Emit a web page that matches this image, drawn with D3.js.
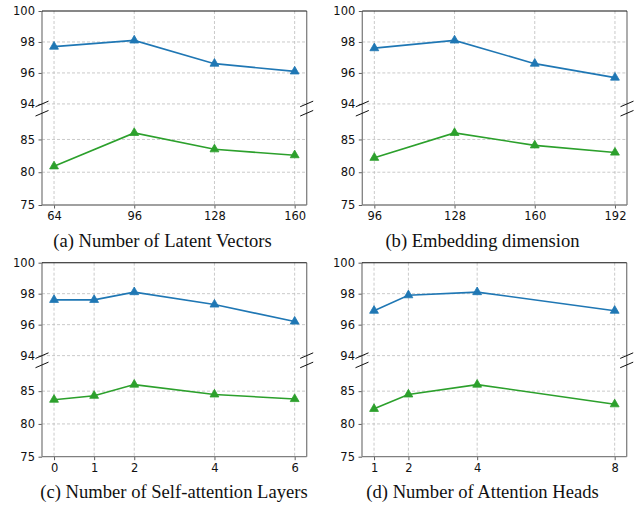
<!DOCTYPE html>
<html>
<head>
<meta charset="utf-8">
<script src="https://cdn.jsdelivr.net/npm/d3@7"></script>
<style>
  body { margin: 0; background: #fff; }
  svg { display: block; }
</style>
</head>
<body>
<script>
const width = 635;
const height = 505;

// (a) latent vectors
const latentX = [64, 96, 128, 160];
const latentBlue = [97.7, 98.1, 96.6, 96.1];
const latentGreen = [80.9, 86.0, 83.5, 82.6];

// (b) embedding dimension
const embedX = [96, 128, 160, 192];
const embedBlue = [97.6, 98.1, 96.6, 95.7];
const embedGreen = [82.2, 86.0, 84.1, 83.0];

// (c) self-attention layers
const layersX = [0, 1, 2, 4, 6];
const layersBlue = [97.6, 97.6, 98.1, 97.3, 96.2];
const layersGreen = [83.7, 84.3, 86.0, 84.5, 83.8];

// (d) attention heads
const headsX = [1, 2, 4, 8];
const headsBlue = [96.9, 97.9, 98.1, 96.9];
const headsGreen = [82.3, 84.5, 86.0, 83.0];

const yTicks = [75, 80, 85, 94, 96, 98, 100];

const captions = [
    "(a) Number of Latent Vectors",
    "(b) Embedding dimension",
    "(c) Number of Self-attention Layers",
    "(d) Number of Attention Heads"
];

const panels = [
    {x: latentX, blue: latentBlue, green: latentGreen, caption: captions[0],
     left: 42, top: 11, capX: 162.5},
    {x: embedX, blue: embedBlue, green: embedGreen, caption: captions[1],
     left: 362.3, top: 11, capX: 482.5},
    {x: layersX, blue: layersBlue, green: layersGreen, caption: captions[2],
     left: 42, top: 262.7, capX: 174},
    {x: headsX, blue: headsBlue, green: headsGreen, caption: captions[3],
     left: 362, top: 262.7, capX: 482.5}
];

const pw = 264.7;
const ph = 194;
const blue = "#1f77b4";
const green = "#2ca02c";
const spineGrey = "#808080";

let svg = d3.select("body")
    .append("svg")
    .attr("width", width)
    .attr("height", height);

panels.forEach(p => {
    let g = svg.append("g").attr("transform", `translate(${p.left},${p.top})`);

    // x with matplotlib-like 5% margins
    let x0 = d3.min(p.x), x1 = d3.max(p.x);
    let pad = (x1 - x0) * 0.05;
    let xScale = d3.scaleLinear().domain([x0 - pad, x1 + pad]).range([0, pw]);

    // broken y axis: lower part 75-89, upper part 94-100
    let lowerH = ph * 0.473;
    let upperH = ph * 0.479;
    let yScale = d3.scaleLinear()
        .domain([75, 89, 94, 100])
        .range([ph, ph - lowerH, upperH, 0]);

    // grid
    g.append("g")
        .selectAll("line.hgrid")
        .data(yTicks.filter(d => d !== 75 && d !== 100))
        .join("line")
        .attr("x1", 0).attr("x2", pw)
        .attr("y1", d => yScale(d)).attr("y2", d => yScale(d))
        .attr("stroke", "#bdbdbd")
        .attr("stroke-width", 0.8)
        .attr("stroke-dasharray", "3,2");
    g.append("g")
        .selectAll("line.vgrid")
        .data(p.x)
        .join("line")
        .attr("x1", d => xScale(d)).attr("x2", d => xScale(d))
        .attr("y1", 0).attr("y2", ph)
        .attr("stroke", "#bdbdbd")
        .attr("stroke-width", 0.8)
        .attr("stroke-dasharray", "3,2");

    // axes
    let leftAxis = d3.axisLeft(yScale).tickValues(yTicks).tickSize(3.5).tickPadding(3.5);
    let bottomAxis = d3.axisBottom(xScale).tickValues(p.x).tickSize(3.5).tickPadding(3.5)
        .tickFormat(d3.format("d"));
    let la = g.append("g").call(leftAxis);
    let ba = g.append("g").attr("transform", `translate(0,${ph})`).call(bottomAxis);
    [la, ba].forEach(a => {
        a.select(".domain").remove();
        a.selectAll(".tick line").attr("stroke", "#333").attr("stroke-width", 0.8);
        a.selectAll(".tick text")
            .attr("fill", "#111")
            .style("font-family", "DejaVu Sans, sans-serif")
            .style("font-size", "11.5px");
    });

    // spines
    g.append("line").attr("x1", 0).attr("x2", 0).attr("y1", 0).attr("y2", ph)
        .attr("stroke", spineGrey).attr("stroke-width", 1.3);
    g.append("line").attr("x1", pw).attr("x2", pw).attr("y1", 0).attr("y2", ph)
        .attr("stroke", spineGrey).attr("stroke-width", 1.3);
    g.append("line").attr("x1", 0).attr("x2", pw).attr("y1", ph).attr("y2", ph)
        .attr("stroke", spineGrey).attr("stroke-width", 1.3);
    g.append("line").attr("x1", 0).attr("x2", pw).attr("y1", 0).attr("y2", 0)
        .attr("stroke", "#111").attr("stroke-width", 1.1);

    // break marks
    [0, pw].forEach(sx => {
        [94, 89].forEach(v => {
            let yy = yScale(v);
            g.append("line")
                .attr("x1", sx - 6.5).attr("y1", yy + 2.8)
                .attr("x2", sx + 6.5).attr("y2", yy - 2.8)
                .attr("stroke", "#111").attr("stroke-width", 1);
        });
    });

    // series
    let series = [
        {vals: p.blue, color: blue},
        {vals: p.green, color: green}
    ];
    let line = d3.line().x(d => xScale(d[0])).y(d => yScale(d[1]));
    series.forEach(s => {
        let pts = p.x.map((xv, i) => [xv, s.vals[i]]);
        g.append("path")
            .datum(pts)
            .attr("d", line)
            .attr("fill", "none")
            .attr("stroke", s.color)
            .attr("stroke-width", 1.6);
        g.selectAll(null)
            .data(pts)
            .join("path")
            .attr("d", d3.symbol(d3.symbolTriangle, 34))
            .attr("transform", d => `translate(${xScale(d[0])},${yScale(d[1])})`)
            .attr("fill", s.color)
            .attr("stroke", s.color)
            .attr("stroke-width", 0.8);
    });

    // caption
    svg.append("text")
        .attr("x", p.capX)
        .attr("y", p.top + ph + 41.5)
        .attr("text-anchor", "middle")
        .style("font-family", "'Liberation Serif', 'Times New Roman', serif")
        .style("font-size", "18.6px")
        .attr("fill", "#111")
        .text(p.caption);
});
</script>
</body>
</html>
